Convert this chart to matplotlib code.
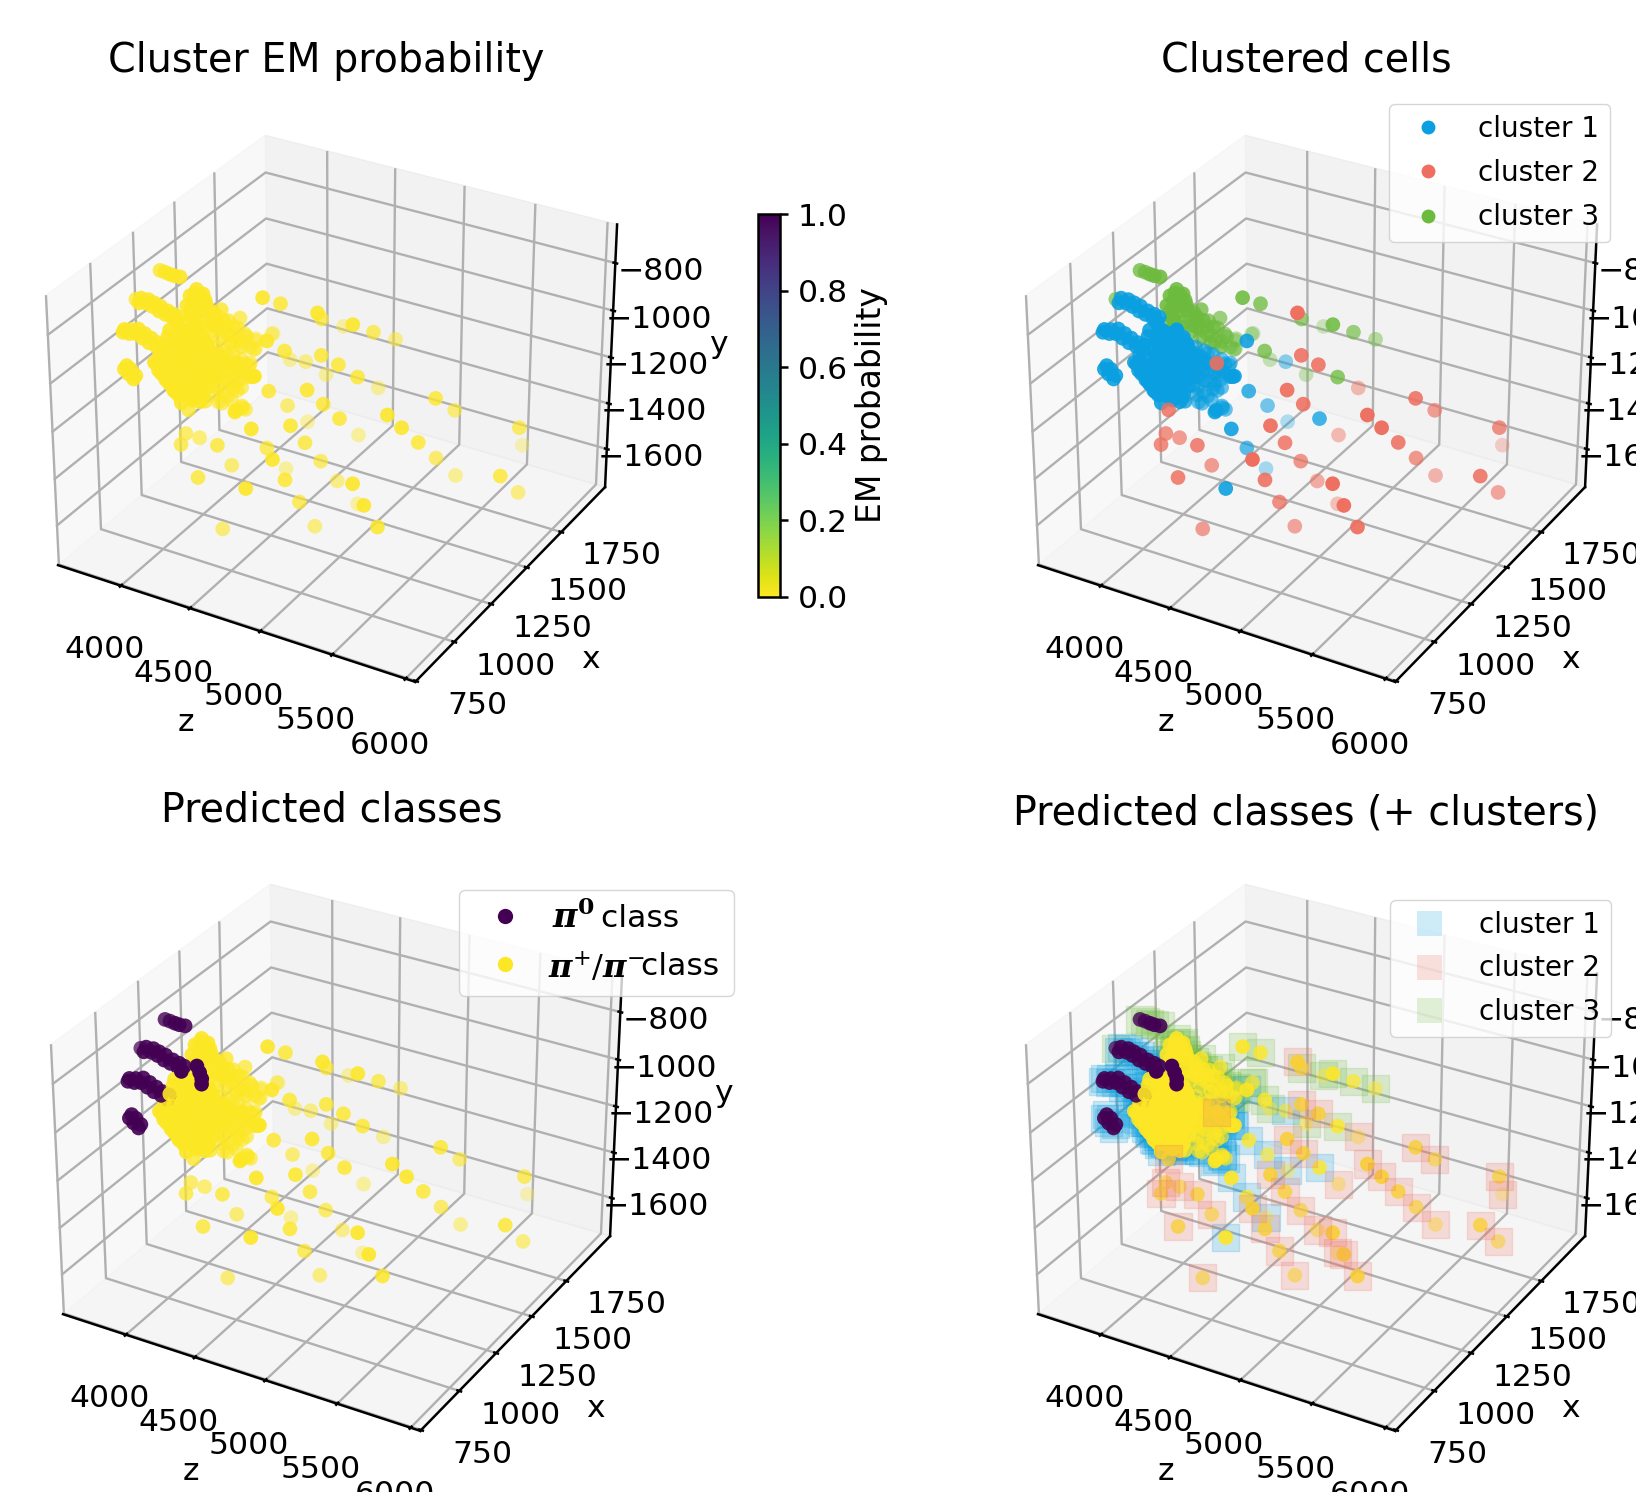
import numpy as np, matplotlib
matplotlib.use('Agg')
import matplotlib.pyplot as plt
from matplotlib.lines import Line2D
from matplotlib.transforms import Affine2D

# cells of cluster 3, pi+/pi- class
g_z=[4380,4410,4580,4465,4890,4875,4870,4125,4115,4200,4505,4260,4480,4930,4025,4050,4025,4060,
4085,4000,4070,4110,4110,4095,4135,4145,4040,4090,4090,4150,4060,4130,4190,4170,4115,4120,
4120,4000,4025,4065,4100,4050,4025,4075,4125,4160,4195,4110,4135,4065,4155,4210,
4085,4145,4204,4262,4024,3965,4104]
g_x=[1320,1405,1515,1765,1435,1585,1740,1605,1500,1425,1345,1595,1635,1430,1210,1220,1200,1210,
1220,1180,1190,1210,1295,1280,1285,1380,1250,1260,1345,1360,1330,1340,1350,1420,1505,1485,
1600,1200,1220,1225,1215,1195,1180,1280,1325,1325,1365,1265,1305,1265,1340,1365,
1244,1257,1270,1284,1233,1219,1273]
g_y=[-815,-880,-975,-1160,-905,-1020,-1135,-1160,-1135,-1115,-1030,-1245,-1295,-1115,-795,-805,-820,-825,
-820,-835,-855,-850,-895,-920,-930,-970,-935,-945,-995,-1000,-1005,-1025,-1045,-1110,-1130,-1165,
-1160,-805,-785,-800,-835,-840,-850,-905,-955,-975,-1020,-950,-995,-925,-1045,-1030,
-966,-985,-1003,-1019,-944,-927,-934]
# cells of cluster 3, pi0 class
gp_z=[3725,3755,3865,3890,3920,3565,4120,4145]
gp_x=[1250,1255,1195,1200,1210,1230,1110,1105]
gp_y=[-770,-775,-735,-740,-745,-905,-825,-845]
# cells of cluster 1, pi+/pi- class
b_z=[4470,4420,4455,4485,4460,4420,4300,4415,4900,4525,4490,4405,4590,3950,3995,4040,4090,4140,
3950,4000,4045,4095,4145,4190,3950,3995,4040,4090,4140,4185,3935,3985,4030,4080,4125,4175,
3920,3970,4015,4065,4115,4160,4210,3955,4000,4050,4100,4145,4195,4005,4050,4100,4150,4195,
4060,4110,4150,3995,4025,4165,4075,4220,4070,4215,4055,4200,4045,4190,4030,4175,4080,4225,
4175,3935,3975,4035,4095,4180,4210,4210,4225,4165,4100,4205,4030,4075,4115,4075,4120,4165,
4210,4055,4105,4155,4205,4070,4135,4180,4225,4125,4190,4255,4230,4095,4100,4190,4080,4180,
4095,4205,4145,4280,4440,4460,4165,4415,
4025,4070,4118,4166,4029,4074,4122,4170,4218,4025,4070,4118,4166,4214,4012,4057,4105,4153,4201,
3999,4044,4092,4140,4188,4236,4029,4077,4125,4173,4221,4078,4126,4174,4214,4125,4019,4075,4133,
4030,4079,4128,4178,4227,4060,4158,4090,4140,4184,4053,4082,4132,4110,4164]
b_x=[1265,1555,1190,1260,1400,1115,1255,1570,1340,1115,1240,1435,1020,1115,1130,1140,1150,1160,
1105,1115,1125,1135,1145,1155,1085,1095,1110,1120,1125,1135,1065,1075,1090,1100,1105,1115,
1045,1055,1070,1075,1085,1095,1105,1040,1050,1060,1070,1080,1085,1040,1045,1055,1065,1075,
1040,1045,1055,1135,1130,1160,1125,1155,1110,1140,1090,1115,1070,1095,1050,1080,1050,1075,
1055,1045,1040,1040,1040,1060,1075,1135,1125,1155,1340,1355,1320,1325,1325,1310,1315,1325,
1340,1285,1295,1305,1325,1270,1280,1300,1315,1255,1280,1290,1360,1325,1310,1330,1290,1310,
1275,1305,1260,1290,1185,1195,1140,1110,
1120,1135,1148,1161,1105,1120,1133,1146,1159,1086,1101,1114,1127,1140,1063,1078,1091,1104,1117,
1041,1056,1069,1082,1095,1108,1035,1048,1061,1074,1087,1035,1048,1061,1068,1031,1134,1150,1165,
1325,1337,1348,1358,1370,1320,1343,1315,1325,1341,1303,1287,1297,1260,1279]
b_y=[-950,-1205,-1060,-1155,-1300,-1165,-1255,-1475,-1245,-1225,-1385,-1605,-1410,-910,-915,-920,-935,-945,
-930,-940,-950,-960,-970,-980,-955,-970,-975,-985,-995,-1005,-985,-995,-1000,-1010,-1020,-1030,
-1010,-1020,-1025,-1035,-1045,-1060,-1070,-1035,-1045,-1055,-1065,-1080,-1090,-1065,-1075,-1090,-1100,-1110,
-1100,-1110,-1120,-905,-930,-955,-960,-995,-985,-1020,-1010,-1045,-1040,-1070,-1060,-1090,-1090,-1120,
-1130,-1015,-1045,-1080,-1115,-1125,-1120,-1015,-1045,-965,-1105,-1140,-1105,-1120,-1135,-1150,-1165,-1170,
-1165,-1175,-1185,-1195,-1190,-1205,-1230,-1220,-1215,-1260,-1255,-1275,-1145,-1130,-1155,-1175,-1180,-1205,
-1215,-1225,-1265,-1285,-1060,-1060,-1185,-1170,
-932,-938,-949,-960,-960,-966,-977,-988,-999,-987,-993,-1004,-1015,-1026,-1014,-1020,-1031,-1042,-1053,
-1040,-1046,-1057,-1068,-1079,-1090,-1068,-1079,-1090,-1101,-1112,-1101,-1112,-1123,-1138,-1137,-909,-920,-935,
-1082,-1096,-1110,-1127,-1141,-1110,-1138,-1137,-1154,-1157,-1131,-1175,-1192,-1235,-1241]
# cells of cluster 1, pi0 class
bp_z=[3745,3785,3825,3865,3905,3945,3975,3710,3745,3780,3820,3860,3905,3945,3775,3805,3840,3750,
3790,3825,3865,3910,3950,3980,3715,3750,3785,3825,3865,3905,3945,3780,3810,3845,4050,4165,4175]
bp_x=[1105,1115,1120,1125,1130,1140,1140,1035,1045,1055,1060,1065,1070,1075,985,985,985,1115,
1125,1130,1135,1140,1145,1150,1040,1050,1065,1070,1075,1080,1085,995,995,995,1075,1100,1090]
bp_y=[-825,-825,-835,-850,-860,-875,-885,-915,-920,-920,-935,-950,-960,-975,-1030,-1045,-1060,-810,
-815,-825,-835,-850,-860,-870,-905,-905,-905,-920,-935,-950,-960,-1020,-1030,-1050,-840,-865,-880]
# cells of cluster 2, pi+/pi- class
r_z=[4690,4705,4810,4785,5375,5365,5800,5575,4275,4720,4790,5210,5305,5350,5370,5375,5835,5805,
4690,4750,4720,4760,4685,4055,4000,4040,4030,4260,4255,4210,4710,4775,5140,4745,4820,5230,
5300,4760,4305]
r_x=[1390,1400,1415,1705,1530,1675,1695,1960,1245,1295,1335,1365,1370,1440,1545,1680,1530,1695,
1215,1605,1280,1345,1105,1130,1155,1205,1100,1130,1220,1050,1160,1440,1205,1220,1535,1195,
1220,1305,1115]
r_y=[-865,-1045,-1075,-1340,-1185,-1320,-1330,-1600,-1065,-1130,-1200,-1190,-1230,-1325,-1450,-1605,-1435,-1610,
-1240,-1495,-1345,-1455,-1320,-1235,-1360,-1400,-1370,-1350,-1490,-1450,-1435,-1595,-1400,-1560,-1745,-1470,
-1565,-1715,-1695]

z_ticks=[4000,4500,5000,5500,6000]
x_ticks=[750,1000,1250,1500,1750]
y_ticks=[-1600,-1400,-1200,-1000,-800]
z_lim=(3535,6065);x_lim=(745,2080);y_lim=(-1770,-640)
cluster_names=['cluster 1','cluster 2','cluster 3']

plt.rcParams.update({'font.size':22.6,'grid.linewidth':1.7,'axes.linewidth':1.8,'xtick.major.width':1.8,'ytick.major.width':1.8,'lines.linewidth':1.8,
 'mathtext.fontset':'custom','mathtext.bfit':'DejaVu Serif:italic:bold','mathtext.bf':'DejaVu Serif:bold','mathtext.rm':'DejaVu Serif'})
W,H=1636,1492
fig=plt.figure(figsize=(W/100,H/100),dpi=100)
BLUE='#0a9fe0';RED='#ee6f5f';GREEN='#6dbb3e'
def shift(a,axis,dx,dy):
    orig=axis.get_major_ticks
    def patched(numticks=None):
        ts=orig(numticks)
        for t in ts:
            t.label1.set_transform(a.transData+Affine2D().translate(dx,dy))
        return ts
    axis.get_major_ticks=patched
def place(cx,cy,A):
    a=fig.add_axes([(cx-A/2)/W,1-(cy+A/2)/H,A/W,A/H],projection='3d')
    a.set_xlim(*z_lim,view_margin=0);a.set_ylim(*x_lim,view_margin=0);a.set_zlim(*y_lim,view_margin=0)
    a.set_xticks(z_ticks);a.set_yticks(x_ticks);a.set_zticks(y_ticks)
    a.set_xlabel('z',labelpad=30);a.set_ylabel('x',labelpad=30);a.set_zlabel('y',labelpad=27)
    a.tick_params(axis='x',pad=18);a.tick_params(axis='y',pad=0);a.tick_params(axis='z',pad=12)
    shift(a,a.xaxis,7,0);shift(a,a.yaxis,49,3)
    for ax_ in (a.xaxis,a.yaxis,a.zaxis):
        ax_._axinfo['tick']['inward_factor']=.06;ax_._axinfo['tick']['outward_factor']=.06
    return a
A=636
a1=place(328,404,A);a2=place(1308,404,A);a3=place(333,1153,A);a4=place(1308,1153,A)
a2.computed_zorder=False
a4.computed_zorder=False
for t,x,y in [('Cluster EM probability',326,61),('Clustered cells',1306,61),('Predicted classes',332,810),('Predicted classes (+ clusters)',1306,813)]:
    fig.text(x/W,1-y/H,t,ha='center',va='center',fontsize=28.5)

all_z=g_z+gp_z+b_z+bp_z+r_z;all_x=g_x+gp_x+b_x+bp_x+r_x;all_y=g_y+gp_y+b_y+bp_y+r_y
cls=[1]*len(g_z)+[0]*len(gp_z)+[1]*len(b_z)+[0]*len(bp_z)+[1]*len(r_z)
em_prob=[0.0]*len(all_z)
S=112
a1.scatter(all_z,all_x,all_y,c=em_prob,cmap='viridis_r',vmin=0,vmax=1,s=S,linewidths=0)
c1=(b_z+bp_z,b_x+bp_x,b_y+bp_y,BLUE);c2=(r_z,r_x,r_y,RED);c3=(g_z+gp_z,g_x+gp_x,g_y+gp_y,GREEN)
for cz,cx_,cy_,c in (c3,c1,c2):
    a2.scatter(cz,cx_,cy_,color=c,s=S,linewidths=0)
a3.scatter(all_z,all_x,all_y,c=cls,cmap='viridis',vmin=0,vmax=1,s=S,linewidths=0)
for cz,cx_,cy_,c in (c3,c1):
    a4.scatter(cz,cx_,cy_,color=c,s=380,marker='s',alpha=.2,linewidths=1)
a4.scatter(all_z,all_x,all_y,c=cls,cmap='viridis',vmin=0,vmax=1,s=S,linewidths=0)
a4.scatter(c2[0],c2[1],c2[2],color=RED,s=380,marker='s',alpha=.2,linewidths=1)
sm=plt.cm.ScalarMappable(cmap='viridis_r',norm=plt.Normalize(0,1))
cax=fig.add_axes([758/W,1-597/H,22/W,383/H])
cb=fig.colorbar(sm,cax=cax)
cb.ax.tick_params(pad=7,length=6)
cb.set_label('EM probability',fontsize=23.8,labelpad=5)
def leg(ax,hs,ls,x,y,fs,sp,bp=.4):
    return ax.legend(hs,ls,loc='upper left',bbox_to_anchor=(x/W,1-y/H),bbox_transform=fig.transFigure,borderaxespad=0,fontsize=fs,labelspacing=sp,borderpad=bp)
def h(c,m='o',ms=10,al=1): return Line2D([],[],marker=m,ls='',color=c,ms=ms,alpha=al,mew=0)
leg(a2,[h(BLUE),h(RED),h(GREEN)],cluster_names,1389,104,20,.58)
leg(a4,[h(BLUE,'s',18,.2),h(RED,'s',18,.2),h(GREEN,'s',18,.2)],cluster_names,1390,900,20,.55)
leg(a3,[h('#440154',ms=11),h('#fde725',ms=11)],['    class','        class'],459,890,22.6,.6,.46)
fig.text(552/W,1-918/H,r'$\boldsymbol{\pi}^{\mathbf{0}}$',fontsize=24,va='center',ha='left',zorder=10)
fig.text(548/W,1-968/H,r'$\boldsymbol{\pi}^{+}/\boldsymbol{\pi}^{-}$',fontsize=23,va='center',ha='left',zorder=10)
fig.savefig('out.png',dpi=100)
